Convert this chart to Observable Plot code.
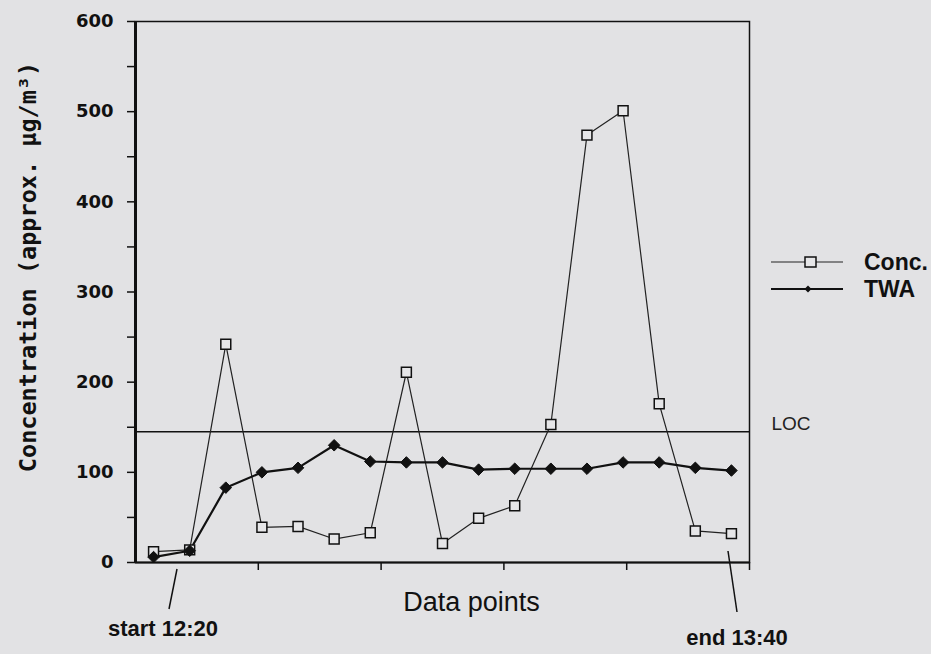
<!DOCTYPE html>
<html><head><meta charset="utf-8">
<script src="https://cdn.jsdelivr.net/npm/d3@7"></script>
<script src="https://cdn.jsdelivr.net/npm/@observablehq/plot@0.6"></script>
<style>
html,body{margin:0;padding:0;background:#e2e2e4;}
#chart{width:931px;height:654px;}
</style></head><body><div id="chart"></div>
<script>
// ---- data ----
const pointIndex = [1,2,3,4,5,6,7,8,9,10,11,12,13,14,15,16,17];
const conc = [12,14,242,39,40,26,33,211,21,49,63,153,474,501,176,35,32];
const twa  = [6,13,83,100,105,130,112,111,111,103,104,104,104,111,111,105,102];
const LOC = 145;
const yTicks = [0,100,200,300,400,500,600];
const yMinor = [50,150,250,350,450,550];
const seriesNames = ["Conc.", "TWA"];
const yLabel = "Concentration (approx. \u00b5g/m\u00b3)";
const xLabel = "Data points";
const startLabel = "start 12:20";
const endLabel = "end 13:40";

const data = pointIndex.map((p, i) => ({p, conc: conc[i], twa: twa[i]}));
const xDomain = [0.5, 17.5];
const xTicks = [0.2, 0.4, 0.6, 0.8, 1].map(f => xDomain[0] + f * (xDomain[1] - xDomain[0]));

const ink = "#111";
const chart = Plot.plot({
  width: 931, height: 654,
  marginLeft: 135, marginRight: 182, marginTop: 21, marginBottom: 92,
  style: {background: "transparent", color: ink, overflow: "visible"},
  x: {domain: xDomain},
  y: {domain: [0, 600]},
  marks: [
    Plot.frame({stroke: ink, strokeWidth: 1.5}),
    Plot.ruleX([xDomain[0]], {stroke: ink, strokeWidth: 3}),
    Plot.ruleY([0], {stroke: ink, strokeWidth: 2}),
    Plot.axisY(yTicks, {tickSize: 8, tickPadding: 14, strokeWidth: 1.5, fontSize: 18,
      fontFamily: "DejaVu Sans", fontWeight: "bold", label: null}),
    Plot.axisY(yMinor, {tickSize: 8, strokeWidth: 1.5, fill: "none", label: null}),
    Plot.axisX(xTicks, {tickSize: 8, strokeWidth: 1.5, fill: "none", label: null}),
    Plot.ruleY([LOC], {stroke: ink, strokeWidth: 1.5}),
    Plot.text([LOC], {y: d => d, frameAnchor: "right", text: () => "LOC", dx: 22, dy: -8,
      textAnchor: "start", fontSize: 19, fontFamily: "Liberation Sans", fill: "#222"}),
    Plot.line(data, {x: "p", y: "conc", stroke: "#222", strokeWidth: 1.2}),
    Plot.line(data, {x: "p", y: "twa", stroke: ink, strokeWidth: 2.2}),
    Plot.dot(data, {x: "p", y: "conc", symbol: "square", r: 5.6, fill: "#e6e6e8", stroke: ink, strokeWidth: 1.5}),
    Plot.dot(data, {x: "p", y: "twa", symbol: "diamond2", r: 5.2, fill: ink, stroke: ink, strokeWidth: 1}),
    Plot.text([yLabel], {frameAnchor: "left", rotate: -90, dx: -107, dy: -25, text: d => d,
      fontFamily: "DejaVu Sans Mono", fontWeight: "bold", fontSize: 23.5, textAnchor: "middle", lineAnchor: "middle"}),
    Plot.text([xLabel], {frameAnchor: "bottom", dx: 29, dy: 40, text: d => d,
      fontFamily: "Liberation Sans", fontSize: 27, lineAnchor: "middle"})
  ]
});
document.getElementById("chart").appendChild(chart);

// ---- legend and start/end annotations ----
const svg = d3.select(chart);
const leg = svg.append("g").attr("font-family", "Liberation Sans").attr("font-weight", "bold")
  .attr("font-size", 23).attr("fill", ink).attr("text-anchor", "start");
// Conc. entry
leg.append("line").attr("x1", 771).attr("x2", 843).attr("y1", 262).attr("y2", 262).attr("stroke", "#222").attr("stroke-width", 1.2);
leg.append("rect").attr("x", 805).attr("y", 257).attr("width", 11).attr("height", 10).attr("fill", "#e6e6e8").attr("stroke", ink).attr("stroke-width", 1.5);
leg.append("text").attr("x", 864).attr("y", 270).text(seriesNames[0]);
// TWA entry
leg.append("line").attr("x1", 771).attr("x2", 843).attr("y1", 289).attr("y2", 289).attr("stroke", ink).attr("stroke-width", 2);
leg.append("path").attr("d", "M808,285.5L811.5,289L808,292.5L804.5,289Z").attr("fill", ink);
leg.append("text").attr("x", 864).attr("y", 297).text(seriesNames[1]);

const ann = svg.append("g").attr("font-family", "Liberation Sans").attr("font-weight", "bold")
  .attr("font-size", 22).attr("fill", ink).attr("text-anchor", "middle");
ann.append("line").attr("x1", 177).attr("y1", 569).attr("x2", 169).attr("y2", 609).attr("stroke", ink).attr("stroke-width", 1.5);
ann.append("text").attr("x", 163).attr("y", 636).text(startLabel);
ann.append("line").attr("x1", 728).attr("y1", 551).attr("x2", 737).attr("y2", 612).attr("stroke", ink).attr("stroke-width", 1.5);
ann.append("text").attr("x", 737).attr("y", 645).text(endLabel);
</script>
</body></html>
